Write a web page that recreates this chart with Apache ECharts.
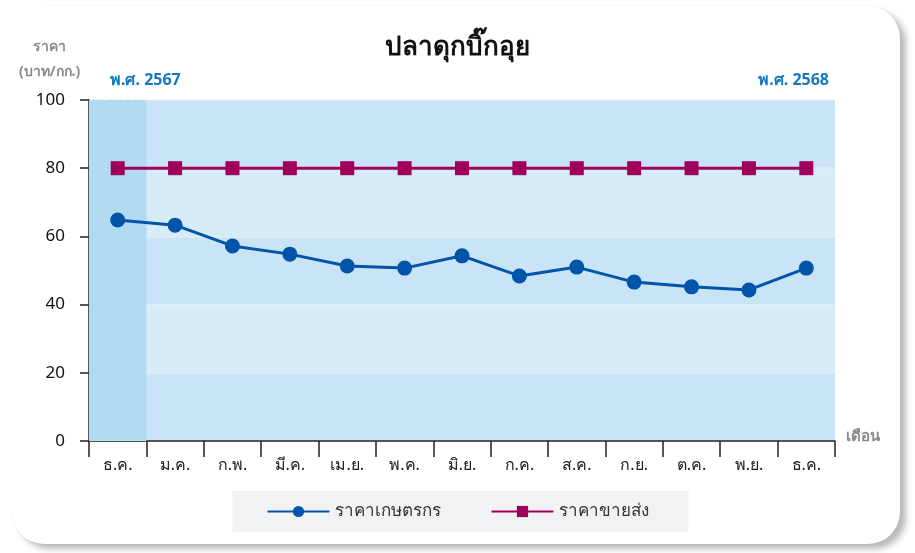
<!DOCTYPE html>
<html>
<head>
<meta charset="utf-8">
<script src="https://cdn.jsdelivr.net/npm/echarts@6/dist/echarts.min.js"></script>
<style>
  html, body { margin: 0; padding: 0; background: #ffffff; }
  .card {
    position: absolute; left: 12px; top: 6px; width: 888px; height: 538px;
    background: #fff; border-radius: 32px;
    box-shadow: 6px 5px 6px rgba(0, 0, 0, 0.28), 0 0 2px rgba(0, 0, 0, 0.05);
  }
  #chart { position: absolute; left: 0; top: 0; width: 915px; height: 553px; }
</style>
</head>
<body>
<div class="card"></div>
<div id="chart"></div>
<script>
const months = ["ธ.ค.", "ม.ค.", "ก.พ.", "มี.ค.", "เม.ย.", "พ.ค.", "มิ.ย.", "ก.ค.", "ส.ค.", "ก.ย.", "ต.ค.", "พ.ย.", "ธ.ค."];
const farmPrice = [64.8, 63.3, 57.2, 54.8, 51.3, 50.7, 54.3, 48.4, 51.0, 46.6, 45.2, 44.3, 50.7];
const wholesalePrice = [80, 80, 80, 80, 80, 80, 80, 80, 80, 80, 80, 80, 80];
const yTicks = { min: 0, max: 100, interval: 20 };

const font = "'Noto Sans', 'DejaVu Sans', sans-serif";
const chart = echarts.init(document.getElementById("chart"), null, { renderer: "canvas" });

chart.setOption({
  backgroundColor: "transparent",
  textStyle: { fontFamily: font },
  title: {
    text: "ปลาดุกบิ๊กอุย",
    left: "center",
    top: 30,
    textStyle: { fontSize: 26, fontWeight: 900, color: "#111", fontFamily: font },
  },
  graphic: [
    {
      type: "text", left: 33, top: 40,
      style: { text: "ราคา", fill: "#8a8a8a", font: "bold 14px " + font },
    },
    {
      type: "text", left: 19, top: 65,
      style: { text: "(บาท/กก.)", fill: "#8a8a8a", font: "bold 14px " + font },
    },
    {
      type: "text", left: 110, top: 72,
      style: { text: "พ.ศ. 2567", fill: "#1378c2", font: "bold 16px " + font },
    },
    {
      type: "text", right: 86, top: 72,
      style: { text: "พ.ศ. 2568", fill: "#1378c2", font: "bold 16px " + font },
    },
    {
      type: "text", left: 846, top: 429,
      style: { text: "เดือน", fill: "#8a8a8a", font: "bold 15px " + font },
    },
  ],
  legend: {
    bottom: 21,
    left: "center",
    backgroundColor: "#f0f2f4",
    padding: [12, 40, 12, 34],
    itemGap: 50,
    itemWidth: 62,
    itemHeight: 14,
    textStyle: { fontSize: 17, color: "#333", fontFamily: font },
    data: ["ราคาเกษตรกร", "ราคาขายส่ง"],
  },
  grid: { left: 89, right: 80, top: 100, bottom: 112 },
  xAxis: [
    {
      type: "category",
      data: months,
      boundaryGap: true,
      axisLine: { lineStyle: { color: "#222", width: 1.5 } },
      axisTick: { show: true, length: 16, lineStyle: { color: "#222", width: 1.5 } },
      axisLabel: { color: "#222", fontSize: 16, margin: 16, fontFamily: font },
      splitLine: { show: false },
    },
    {
      type: "value", min: 0, max: months.length, show: false,
    },
  ],
  yAxis: {
    type: "value",
    min: yTicks.min,
    max: yTicks.max,
    interval: yTicks.interval,
    axisLine: { show: true, lineStyle: { color: "#222", width: 1.5 } },
    axisTick: { show: true, length: 9, lineStyle: { color: "#222", width: 1.5 } },
    axisLabel: { color: "#111", fontSize: 17, margin: 24, fontFamily: font },
    splitLine: { show: true, lineStyle: { color: "#e6eef4", type: "dashed", width: 1.5 } },
    splitArea: { show: true, areaStyle: { color: ["#c9e4f6", "#d7ecf9"] } },
  },
  series: [
    {
      name: "column",
      type: "line",
      xAxisIndex: 1,
      data: [],
      silent: true,
      z: 1,
      markArea: {
        silent: true,
        itemStyle: { color: "#b2daf3" },
        data: [[{ xAxis: 0, yAxis: yTicks.min }, { xAxis: 1, yAxis: yTicks.max }]],
      },
    },
    {
      name: "ราคาเกษตรกร",
      type: "line",
      data: farmPrice,
      symbol: "circle",
      symbolSize: 15,
      color: "#0055a8",
      lineStyle: { width: 3, color: "#0055a8" },
      itemStyle: { color: "#0055a8" },
      z: 3,
    },
    {
      name: "ราคาขายส่ง",
      type: "line",
      data: wholesalePrice,
      symbol: "rect",
      symbolSize: 14,
      color: "#9e005b",
      lineStyle: { width: 3, color: "#9e005b" },
      itemStyle: { color: "#9e005b" },
      z: 3,
    },
  ],
});
</script>
</body>
</html>
